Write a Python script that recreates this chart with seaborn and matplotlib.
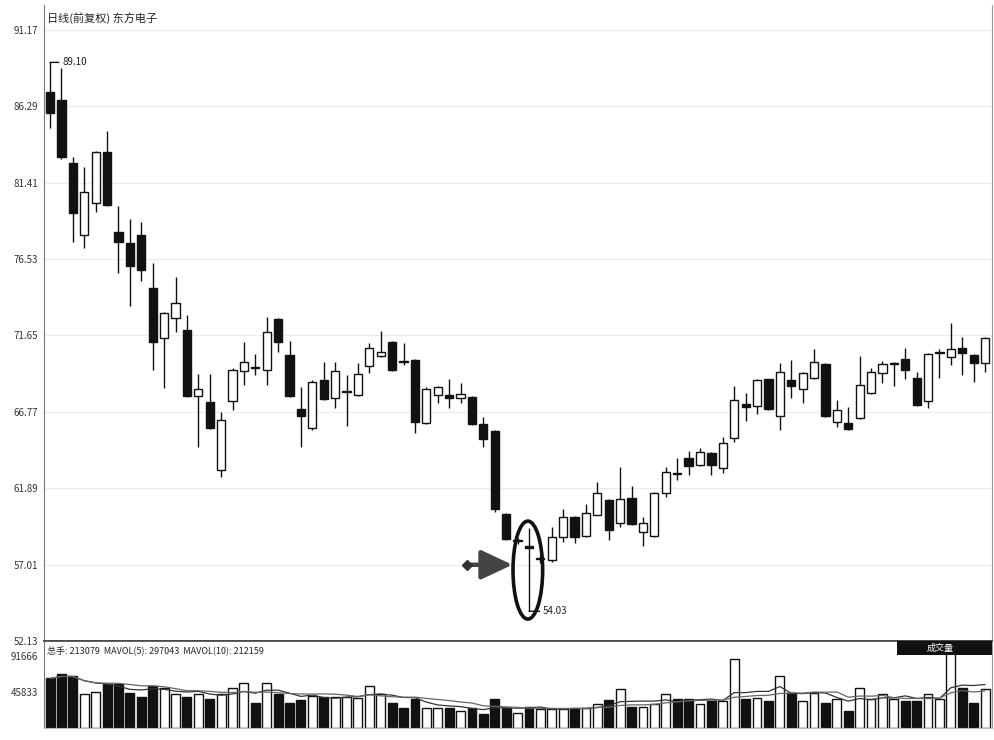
import numpy as np
import pandas as pd
import matplotlib
matplotlib.use("Agg")
import matplotlib.pyplot as plt
from matplotlib.patches import Ellipse, Rectangle
import seaborn as sns

# ---------------- data ----------------
open_ = [87.21, 86.70, 82.67, 78.07, 80.12, 83.37, 78.26, 77.56, 78.07, 74.68,
         71.49, 72.77, 72.00, 67.78, 67.40, 63.05, 67.46, 69.38, 69.60, 69.44,
         72.70, 70.40, 66.95, 65.74, 68.80, 67.65, 68.05, 67.85, 69.70, 70.34,
         71.23, 70.00, 70.08, 66.06, 67.85, 67.85, 67.65, 67.72, 65.99, 65.55,
         60.24, 58.50, 58.20, 57.35, 57.30, 58.77, 60.05, 58.84, 60.18, 61.14,
         59.67, 61.26, 59.09, 58.84, 61.58, 62.84, 63.82, 63.37, 64.14, 63.18,
         65.10, 67.27, 67.14, 68.87, 66.50, 68.80, 68.23, 68.93, 69.83, 66.12,
         66.06, 66.38, 67.97, 69.25, 69.85, 70.15, 68.93, 67.46, 70.55, 70.27,
         70.85, 70.40, 69.89]
high = [89.10, 88.74, 83.05, 82.42, 83.45, 84.72, 79.92, 79.09, 78.90, 76.28,
        73.12, 75.39, 72.96, 69.19, 69.19, 66.76, 69.57, 71.23, 70.47, 72.83,
        72.75, 71.30, 68.36, 68.80, 69.96, 69.96, 69.12, 69.89, 71.17, 71.94,
        71.30, 71.17, 70.12, 68.36, 68.40, 68.87, 68.61, 67.78, 66.44, 65.60,
        60.30, 58.70, 59.35, 57.60, 59.41, 60.56, 60.10, 60.88, 62.29, 61.20,
        63.25, 62.03, 60.05, 61.62, 63.25, 63.82, 64.27, 64.46, 64.20, 65.16,
        68.42, 67.97, 68.85, 68.90, 69.89, 70.08, 69.30, 70.79, 69.88, 67.53,
        67.08, 70.34, 69.57, 70.02, 69.95, 70.85, 69.32, 70.50, 70.79, 72.45,
        71.55, 70.45, 71.55]
low = [84.91, 82.95, 77.62, 77.24, 79.54, 79.90, 75.64, 73.53, 75.13, 69.44,
       68.29, 71.87, 67.70, 64.52, 65.66, 62.61, 66.89, 68.49, 69.12, 68.49,
       70.59, 67.70, 64.52, 65.61, 67.50, 67.02, 65.87, 67.80, 69.25, 70.30,
       69.35, 69.76, 65.42, 66.00, 67.34, 67.02, 67.34, 65.90, 64.52, 60.37,
       58.60, 58.35, 54.03, 57.10, 57.17, 58.45, 58.39, 58.80, 60.15, 58.58,
       59.41, 59.55, 58.20, 58.80, 61.33, 62.41, 62.73, 63.30, 62.73, 62.86,
       64.84, 66.19, 66.63, 66.90, 65.61, 67.65, 67.34, 68.90, 66.45, 65.80,
       65.62, 66.33, 67.92, 68.61, 68.42, 68.87, 67.15, 66.99, 68.93, 69.76,
       69.12, 68.68, 69.32]
close = [85.87, 83.05, 79.48, 80.82, 83.37, 79.99, 77.62, 76.09, 75.83, 71.23,
         73.09, 73.73, 67.78, 68.23, 65.74, 66.25, 69.44, 69.96, 69.55, 71.87,
         71.23, 67.78, 66.50, 68.68, 67.59, 69.38, 68.12, 69.19, 70.85, 70.59,
         69.44, 69.93, 66.12, 68.23, 68.36, 67.65, 67.91, 65.99, 65.03, 60.56,
         58.64, 58.55, 58.10, 57.40, 58.77, 60.05, 58.77, 60.31, 61.58, 59.22,
         61.20, 59.60, 59.67, 61.58, 62.93, 62.78, 63.31, 64.20, 63.37, 64.78,
         67.53, 67.08, 68.80, 66.95, 69.32, 68.42, 69.25, 69.96, 66.50, 66.89,
         65.67, 68.49, 69.32, 69.83, 69.92, 69.44, 67.21, 70.47, 70.62, 70.79,
         70.53, 69.89, 71.49]
volume = [63200, 68400, 65800, 43900, 46400, 55500, 55500, 45200, 40000, 54200,
          51600, 43900, 40000, 43900, 37400, 43900, 51600, 56800, 32300, 56800,
          43900, 32300, 36100, 41300, 40000, 40000, 40000, 38700, 54200, 43900,
          32300, 25800, 37400, 25800, 25800, 25800, 21900, 25800, 18100, 37400,
          25800, 19400, 27100, 24500, 24500, 24500, 24500, 25800, 31000, 36100,
          50300, 27100, 27100, 31000, 43900, 37400, 37400, 31000, 34800, 34800,
          87700, 37400, 38700, 34800, 65800, 45200, 34800, 45200, 32300, 37400,
          21900, 51600, 37400, 43900, 37400, 34800, 34800, 43900, 37400, 105800,
          51600, 32300, 50300]

price_ticks = [91.17, 86.29, 81.41, 76.53, 71.65, 66.77, 61.89, 57.01, 52.13]
vol_ticks = [91666, 45833]
title_text = "日线(前复权) 东方电子"
vol_title_text = "总手: 213079  MAVOL(5): 297043  MAVOL(10): 212159"
vol_badge_text = "成交量"

# ---------------- style ----------------
sns.set_style("white")
plt.rcParams["font.family"] = ["Noto Sans CJK SC", "DejaVu Sans"]

o = np.array(open_); h = np.array(high); l = np.array(low); c = np.array(close)
n = len(o)
x = np.arange(n)
up = c >= o
INK = "#111111"

fig = plt.figure(figsize=(9.94, 7.40), dpi=100)
ax = fig.add_axes([0.0443, 0.1338, 0.9537, 0.8595])
axv = fig.add_axes([0.0443, 0.0162, 0.9537, 0.1176])

# ---------------- price panel ----------------
ax.vlines(x, l, h, color=INK, lw=1.0, zorder=2)
body_bottom = np.minimum(o, c)
body_h = np.maximum(np.abs(c - o), 0.07)
ax.bar(x, body_h, bottom=body_bottom, width=0.72,
       color=np.where(up, "white", INK), edgecolor=INK, linewidth=1.0, zorder=3)

ax.set_xlim(-0.53, n - 1 + 0.61)
ax.set_ylim(52.13, 92.77)
ax.set_yticks(price_ticks)
ax.set_yticklabels([f"{t:.2f}" for t in price_ticks])
ax.tick_params(axis="y", labelsize=7, colors="#333333", length=0, pad=4)
ax.set_xticks([])
ax.yaxis.grid(True, color="#ececec", lw=0.8)
ax.set_axisbelow(True)
for s in ["top"]:
    ax.spines[s].set_visible(False)
ax.spines["left"].set_color("#777777")
ax.spines["right"].set_color("#999999")
ax.spines["bottom"].set_color("#444444")
ax.spines["bottom"].set_linewidth(1.2)

ax.text(0.003, 0.98, title_text, transform=ax.transAxes, fontsize=8,
        va="center", ha="left", color="#222222")

# max / min annotations
imax = int(np.argmax(h))
imin = int(np.argmin(l))
ax.annotate(f"{h[imax]:.2f}", xy=(imax, h[imax]), xytext=(12, 0),
            textcoords="offset pixels", fontsize=7, va="center", ha="left",
            color="#222222",
            arrowprops=dict(arrowstyle="-", color=INK, lw=1.0, shrinkA=0, shrinkB=0))
ax.annotate(f"{l[imin]:.2f}", xy=(imin, l[imin]), xytext=(14, 0),
            textcoords="offset pixels", fontsize=7, va="center", ha="left",
            color="#222222",
            arrowprops=dict(arrowstyle="-", color=INK, lw=1.0, shrinkA=0, shrinkB=0))

# highlight ellipse around the hammer candle and pointing arrow
ax.add_patch(Ellipse((imin - 0.1, 56.66), width=2.6, height=6.26, fill=False,
                     lw=2.6, ec=INK, zorder=5))
arrow_y = 57.0
ax.annotate("", xy=(imin - 1.45, arrow_y), xytext=(imin - 5.3, arrow_y),
            arrowprops=dict(arrowstyle="-|>,head_length=1.6,head_width=0.75",
                            lw=3.2, color="#444444", mutation_scale=12,
                            shrinkA=0, shrinkB=0), zorder=6)
ax.plot([imin - 5.4], [arrow_y], marker="D", ms=5, color="#333333", zorder=6)

# ---------------- volume panel ----------------
df = pd.DataFrame({"idx": x, "vol": volume, "dir": np.where(up, "up", "down")})
sns.barplot(data=df, x="idx", y="vol", hue="dir",
            palette={"up": "white", "down": INK}, native_scale=True,
            dodge=False, width=0.78, edgecolor=INK, linewidth=1.0,
            errorbar=None, legend=False, ax=axv)
vol_s = pd.Series(volume, dtype=float)
sns.lineplot(x=x, y=vol_s.rolling(5, min_periods=1).mean().values,
             color="#333333", lw=0.9, ax=axv, zorder=4)
sns.lineplot(x=x, y=vol_s.rolling(10, min_periods=1).mean().values,
             color="#666666", lw=0.9, ax=axv, zorder=4)

axv.set_xlim(-0.53, n - 1 + 0.61)
axv.set_ylim(0, 111000)
axv.set_yticks(vol_ticks)
axv.set_yticklabels([str(v) for v in vol_ticks])
axv.tick_params(axis="y", labelsize=7, colors="#333333", length=0, pad=4)
axv.set_xticks([])
axv.set_xlabel("")
axv.set_ylabel("")
axv.spines["top"].set_color("#444444")
axv.spines["top"].set_linewidth(1.2)
axv.spines["left"].set_color("#777777")
axv.spines["right"].set_color("#999999")
axv.spines["bottom"].set_color("#bbbbbb")

axv.text(0.003, 0.93, vol_title_text, transform=axv.transAxes, fontsize=6.5,
         va="top", ha="left", color="#222222")
axv.add_patch(Rectangle((0.900, 0.84), 0.100, 0.16, transform=axv.transAxes,
                        facecolor=INK, edgecolor="none", zorder=6, clip_on=False))
axv.text(0.945, 0.92, vol_badge_text, transform=axv.transAxes, fontsize=6.5,
         color="white", va="center", ha="center", zorder=7)

fig.savefig("out.png", dpi=100)
